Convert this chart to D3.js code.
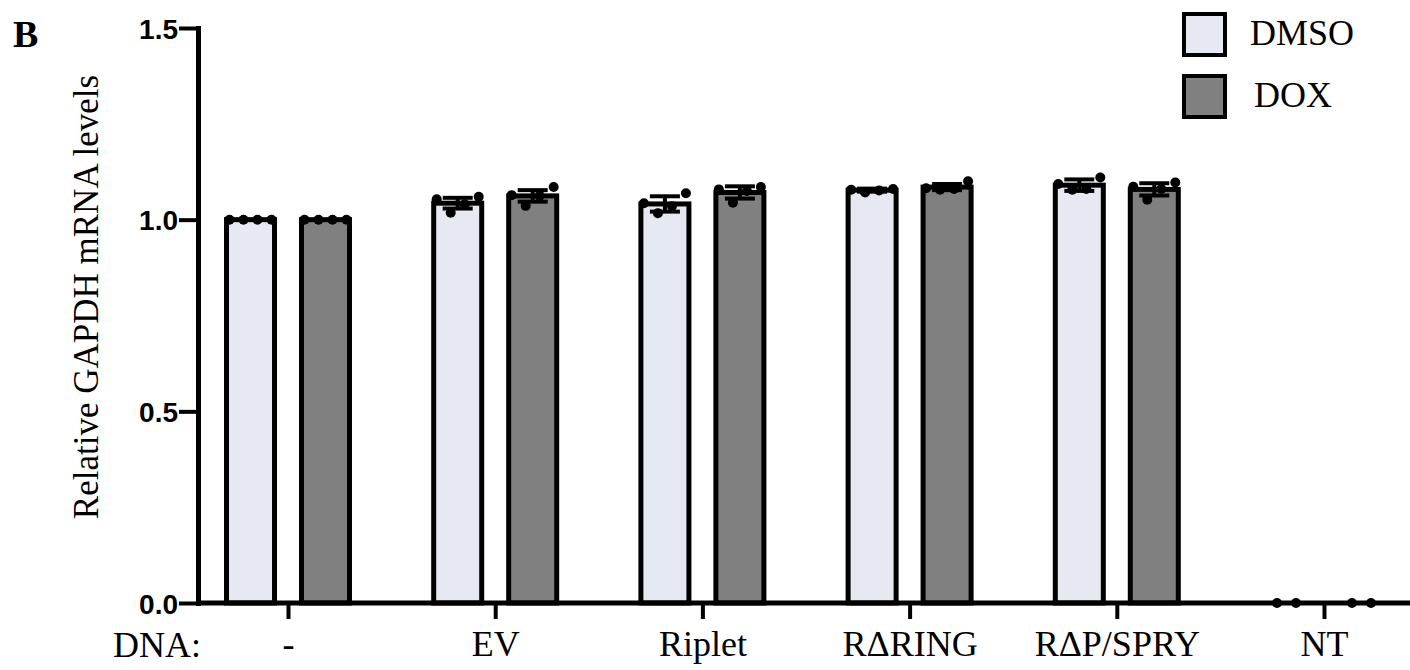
<!DOCTYPE html>
<html>
<head>
<meta charset="utf-8">
<script src="https://cdn.jsdelivr.net/npm/d3@7"></script>
<style>
  body { margin: 0; background: #fff; }
  svg { display: block; }
</style>
</head>
<body>
<div id="chart"></div>
<script>
const categories = ['-', 'EV', 'Riplet', 'R\u0394RING', 'R\u0394P/SPRY', 'NT'];
const series = ['DMSO', 'DOX'];

// bar heights (mean) and error (SD)
const dmsoMean = [1.000, 1.043, 1.041, 1.077, 1.090, 0];
const dmsoErr  = [0.000, 0.014, 0.020, 0.004, 0.015, 0];
const doxMean  = [1.000, 1.062, 1.071, 1.085, 1.079, 0];
const doxErr   = [0.000, 0.015, 0.016, 0.008, 0.016, 0];

// individual replicates
const dmsoDots = [
  [1.0, 1.0, 1.0, 1.0],
  [1.053, 1.018, 1.040, 1.060],
  [1.043, 1.017, 1.035, 1.069],
  [1.078, 1.071, 1.076, 1.080],
  [1.093, 1.078, 1.080, 1.110],
  [0, 0]
];
const doxDots = [
  [1.0, 1.0, 1.0, 1.0],
  [1.064, 1.036, 1.062, 1.085],
  [1.079, 1.044, 1.075, 1.085],
  [1.082, 1.078, 1.080, 1.100],
  [1.086, 1.052, 1.080, 1.097],
  [0, 0]
];
const yTicks = [0, 0.5, 1.0, 1.5];

const colors = { DMSO: '#e6e9f2', DOX: '#808080' };
const serif = '"Liberation Serif", "Times New Roman", serif';

const W = 1410, H = 670;
const svg = d3.select('#chart').append('svg')
  .attr('width', W)
  .attr('height', H);

const x0 = 198;          // y axis position
const yBase = 603;       // x axis position

const y = d3.scaleLinear().domain([0, 1.5]).range([yBase, 28]);
const x = d3.scalePoint().domain(categories).range([288, 1324]);
const sub = d3.scaleBand().domain(series).range([-64, 64]).paddingInner(0.293);

const data = [];
categories.forEach((c, i) => {
  data.push({ cat: c, key: 'DMSO', mean: dmsoMean[i], err: dmsoErr[i], dots: dmsoDots[i] });
  data.push({ cat: c, key: 'DOX', mean: doxMean[i], err: doxErr[i], dots: doxDots[i] });
});

const bw = sub.bandwidth();
const stroke = 5;

// bars
svg.append('g').selectAll('rect')
  .data(data.filter(d => d.mean > 0))
  .enter().append('rect')
  .attr('x', d => x(d.cat) + sub(d.key) + stroke / 2)
  .attr('y', d => y(d.mean))
  .attr('width', bw - stroke)
  .attr('height', d => y(0) - y(d.mean))
  .attr('fill', d => colors[d.key])
  .attr('stroke', '#000')
  .attr('stroke-width', stroke);

// error bars
const eb = svg.append('g').attr('stroke', '#000').attr('stroke-width', 4);
data.filter(d => d.err > 0).forEach(d => {
  const cx = x(d.cat) + sub(d.key) + bw / 2;
  eb.append('line')
    .attr('x1', cx).attr('x2', cx)
    .attr('y1', y(d.mean + d.err)).attr('y2', y(d.mean - d.err));
  [d.mean + d.err, d.mean - d.err].forEach(v => {
    eb.append('line')
      .attr('x1', cx - 15).attr('x2', cx + 15)
      .attr('y1', y(v)).attr('y2', y(v));
  });
});

// axes
const yAxis = svg.append('g')
  .attr('transform', `translate(${x0},0)`)
  .call(d3.axisLeft(y).tickValues(yTicks).tickFormat(d3.format('.1f')).tickSize(19).tickSizeOuter(0).tickPadding(1));
yAxis.select('.domain').attr('stroke-width', stroke).attr('stroke-linecap', 'square');
yAxis.selectAll('.tick line').attr('stroke-width', 4);
yAxis.selectAll('.tick text')
  .attr('fill', '#000')
  .style('font-family', '"Liberation Sans", Arial, sans-serif')
  .style('font-weight', 'bold')
  .style('font-size', '28px')
  .attr('dy', '0.36em');

const xAxis = svg.append('g')
  .attr('transform', `translate(0,${yBase})`)
  .call(d3.axisBottom(x).tickSize(16).tickSizeOuter(0).tickPadding(11));
xAxis.select('.domain').remove();
xAxis.append('line')
  .attr('x1', x0 - 2).attr('x2', W)
  .attr('stroke', '#000').attr('stroke-width', stroke);
xAxis.selectAll('.tick line').attr('stroke-width', 4);
xAxis.selectAll('.tick text')
  .attr('fill', '#000')
  .style('font-family', serif)
  .style('font-size', '36px');

svg.append('text')
  .attr('x', 113).attr('y', 657)
  .text('DNA:')
  .style('font-family', serif)
  .style('font-size', '36px');

// replicate dots
const dotG = svg.append('g');
data.forEach(d => {
  const cx = x(d.cat) + sub(d.key) + bw / 2;
  const n = d.dots.length;
  const step = n > 2 ? 14 : 19;
  d.dots.forEach((v, i) => {
    dotG.append('circle')
      .attr('cx', cx + (i - (n - 1) / 2) * step)
      .attr('cy', y(v))
      .attr('r', 5)
      .attr('fill', '#000');
  });
});

// y label
svg.append('text')
  .attr('transform', `translate(98,297) rotate(-90)`)
  .attr('text-anchor', 'middle')
  .text('Relative GAPDH mRNA levels')
  .style('font-family', serif)
  .style('font-size', '35px');

// panel letter
svg.append('text')
  .attr('x', 13).attr('y', 47)
  .text('B')
  .style('font-family', serif)
  .style('font-weight', 'bold')
  .style('font-size', '38px');

// legend
const legend = svg.append('g');
series.forEach((s, i) => {
  const g = legend.append('g').attr('transform', `translate(1184,${14 + i * 62})`);
  g.append('rect')
    .attr('width', 41).attr('height', 41)
    .attr('fill', colors[s])
    .attr('stroke', '#000').attr('stroke-width', 4);
  g.append('text')
    .attr('x', 66 + i * 4).attr('y', 31)
    .text(s)
    .style('font-family', serif)
    .style('font-size', '36px');
});
</script>
</body>
</html>
